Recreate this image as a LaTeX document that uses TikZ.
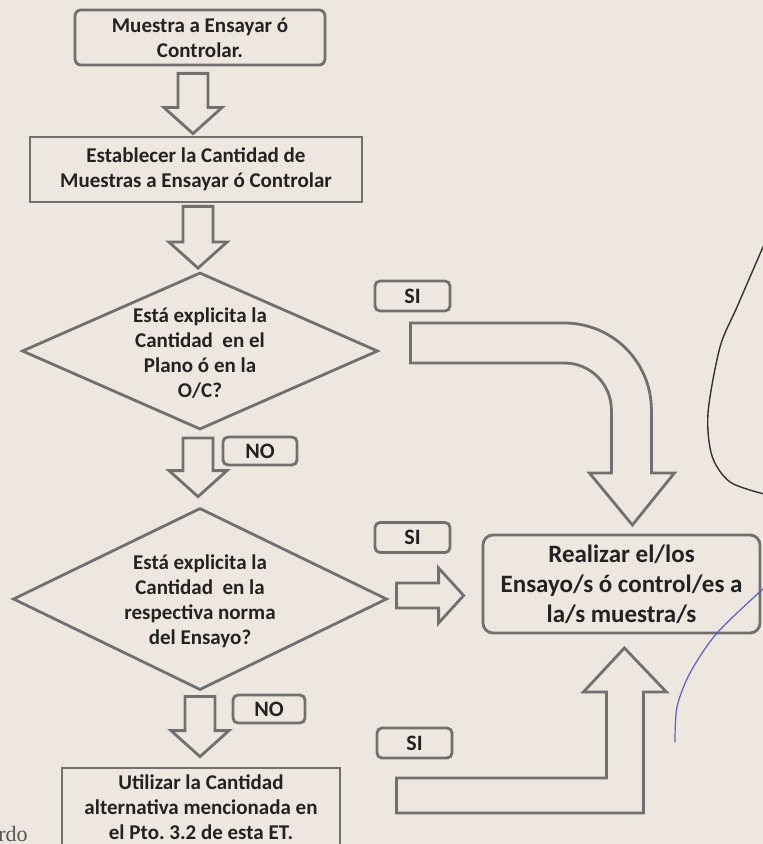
\documentclass[tikz,border=0pt]{standalone}
\usepackage{fontspec}
\setmainfont{Carlito}
\newfontfamily\scanfont{Liberation Serif}
\usetikzlibrary{shapes.geometric, calc}

\definecolor{paper}{RGB}{237,231,223}
\definecolor{edge}{RGB}{112,112,112}
\definecolor{ink}{RGB}{34,34,34}
\definecolor{pen}{RGB}{88,96,196}

\tikzstyle{proc} = [rectangle, draw=edge, line width=1.4pt, inner sep=0pt, align=center, text=ink, font=\fontsize{10.5}{12.5}\selectfont\bfseries]
\tikzstyle{startbox} = [proc, rounded corners=3pt]
\tikzstyle{result} = [proc, rounded corners=5pt, font=\fontsize{12.5}{15}\selectfont\bfseries]
\tikzstyle{decision} = [diamond, draw=edge, line width=1.4pt, inner sep=0pt]
\tikzstyle{dectext} = [align=center, inner sep=0pt, text=ink, font=\fontsize{10.5}{12.5}\selectfont\bfseries]
\tikzstyle{answer} = [rectangle, rounded corners=2.5pt, draw=edge, line width=1.4pt, minimum width=37.5pt, minimum height=15pt, inner sep=0pt, text=ink, font=\fontsize{11}{13}\selectfont\bfseries]
\tikzstyle{blockarrow} = [draw=edge, line width=1.4pt, line join=miter]

\tikzset{
  downblock/.style={blockarrow, to path={let \p1=(\tikztostart), \p2=(\tikztotarget) in
    (\x1-7.5pt,\y1) -- (\x1-7.5pt,\y2+13pt) -- (\x1-14.5pt,\y2+13pt) -- (\x1,\y2)
    -- (\x1+14.5pt,\y2+13pt) -- (\x1+7.5pt,\y2+13pt) -- (\x1+7.5pt,\y1) -- cycle}},
  rightblock/.style={blockarrow, to path={let \p1=(\tikztostart), \p2=(\tikztotarget) in
    (\x1,\y1+6.25pt) -- (\x2-12.5pt,\y1+6.25pt) -- (\x2-12.5pt,\y1+13.75pt) -- (\x2,\y1)
    -- (\x2-12.5pt,\y1-13.75pt) -- (\x2-12.5pt,\y1-6.25pt) -- (\x1,\y1-6.25pt) -- cycle}}
}

\begin{document}
\begin{tikzpicture}

\useasboundingbox (0,0) rectangle (381.5pt,-422pt);
\fill[paper] (0,0) rectangle (381.5pt,-422pt);

%% NODES

\node (box1) [startbox, minimum width=125pt, minimum height=27.5pt] at (100pt,-18.75pt) {Muestra a Ensayar ó\\Controlar.};
\node (box2) [proc, below of=box1, node distance=66pt, xshift=-2pt, minimum width=166pt, minimum height=32.5pt] {Establecer la Cantidad de\\Muestras a Ensayar ó Controlar};
\node (dec1) [decision, below of=box2, node distance=90.75pt, xshift=2pt, minimum width=178pt, minimum height=78.5pt] {};
\node (dec1t) [dectext] at ([yshift=-1pt]dec1.center) {Está explicita la\\Cantidad\ \ en el\\Plano ó en la\\O/C?};
\node (dec2) [decision, below of=dec1, node distance=124pt, minimum width=187pt, minimum height=91pt] {};
\node (dec2t) [dectext] at ([yshift=-1pt]dec2.center) {Está explicita la\\Cantidad\ \ en la\\respectiva norma\\del Ensayo?};
\node (box3) [proc, below of=dec2, node distance=104pt, xshift=0.5pt, minimum width=139pt, minimum height=39pt] {Utilizar la Cantidad\\alternativa mencionada en\\el Pto.\ 3.2 de esta ET.};
\node (box4) [result, right of=dec2, node distance=210.75pt, yshift=7.5pt, minimum width=138.5pt, minimum height=49pt] {Realizar el/los\\Ensayo/s ó control/es a\\la/s muestra/s};

\node (si1) [answer, right of=dec1, node distance=106.25pt, yshift=27.5pt] {SI};
\node (si2) [answer, right of=dec2, node distance=106.25pt, yshift=30.75pt] {SI};
\node (si3) [answer, right of=box3, node distance=106.75pt, yshift=32pt] {SI};
\node (no1) [answer, below of=dec1, node distance=50pt, xshift=30pt, minimum width=37pt, minimum height=14pt] {NO};
\node (no2) [answer, below of=dec2, node distance=55pt, xshift=34.5pt, minimum width=36pt, minimum height=14pt] {NO};

\node (scrap) [anchor=base east, inner sep=0pt, text={rgb,255:red,85;green,85;blue,85}, font=\scanfont\fontsize{11}{13}\selectfont] at (14pt,-420.5pt) {rdo};

%% ARROWS

\draw [downblock] ([xshift=-3.5pt,yshift=-3.5pt]box1.south) to ([yshift=1pt]box2.north);
\draw [downblock] ([xshift=1pt,yshift=-1.5pt]box2.south) to ([yshift=1.5pt]dec1.north);
\draw [downblock] ([xshift=-1pt,yshift=-3.5pt]dec1.south) to ([yshift=5pt]dec2.north);
\draw [downblock] ([yshift=-2.5pt]dec2.south) to ([yshift=5pt]box3.north);
\draw [rightblock] ([xshift=4pt,yshift=1.75pt]dec2.east) to ([xshift=-9pt]box4.west);

\coordinate (c1) at ([xshift=15.5pt,yshift=14pt]dec1.east);
\draw [blockarrow] (c1) -- ++(77pt,0) arc[start angle=90, end angle=0, radius=43.5pt] -- ++(0,-31.5pt)
  -- ++(11.5pt,0) -- ++(-21pt,-26pt) -- ++(-21.5pt,26pt) -- ++(11pt,0) -- ++(0,31.5pt)
  arc[start angle=0, end angle=90, radius=23.5pt] -- ++(-77pt,0) -- cycle;

\coordinate (c2) at ([xshift=27.5pt,yshift=14.5pt]box3.east);
\draw [blockarrow] (c2) -- ++(105pt,0) -- ++(0,43pt) -- ++(-11.5pt,0) -- ++(20.5pt,22pt)
  -- ++(21pt,-22pt) -- ++(-11.5pt,0) -- ++(0,-60.5pt) -- ++(-123.5pt,0) -- cycle;

%% pen marks
\draw [black!80, line width=0.7pt] plot[smooth] coordinates {(383pt,-120pt) (368.5pt,-153.5pt) (360pt,-173.5pt) (354pt,-206.5pt) (356pt,-228pt) (365pt,-241pt) (382pt,-247pt)};
\draw [pen, line width=0.6pt] plot[smooth] coordinates {(382pt,-294pt) (358.5pt,-316.5pt) (345pt,-336.5pt) (338.5pt,-353.5pt) (337.5pt,-371pt)};

\end{tikzpicture}
\end{document}
